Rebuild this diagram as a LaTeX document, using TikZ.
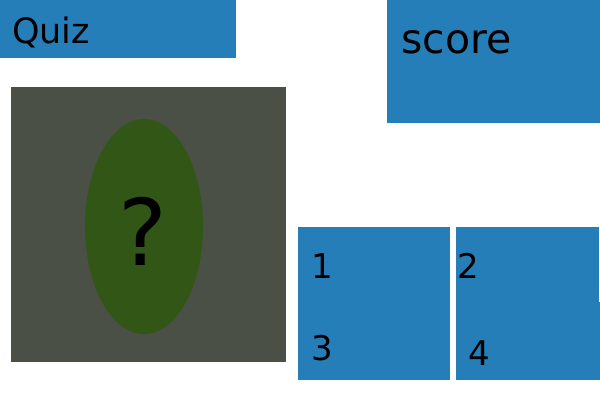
\documentclass[tikz,border=0pt]{standalone}
\usepackage{fontspec}
\setmainfont{DejaVu Sans}
\usepackage{tikz}

\definecolor{quizblue}{RGB}{38,126,185}
\definecolor{slate}{RGB}{75,80,70}
\definecolor{leaf}{RGB}{50,86,22}

\tikzset{
	label/.style={anchor=base west, inner sep=0pt, text=black},
	pad/.style={fill=quizblue}
}

\begin{document}
\begin{tikzpicture}[x=1pt,y=-1pt]
	% Page
		\fill[white] (0,0) rectangle (600,400);
		\useasboundingbox (0,0) rectangle (600,400);

	% Quiz
		\fill[pad] (0,0) rectangle (236,58);
		\node[label] (quiz) at (12,43) {\fontsize{35}{40}\selectfont Quiz};

	% Score
		\fill[pad] (387,0) rectangle (600,122.5);
		\node[label] (score) at (401,53) {\fontsize{41}{46}\selectfont score};

	% Picture
		\fill[slate] (11,87) rectangle (286,362);
		\fill[leaf] (144,226.5) ellipse[x radius=59, y radius=107.5];
		\node[anchor=base, inner sep=0pt] (mark) at (143,265) {\fontsize{92}{100}\selectfont ?};

	% Answers
		\fill[pad] (298,227) rectangle (450,303);
		\fill[pad] (298,303) rectangle (450,380);
		\fill[pad] (456,227) rectangle (599,302);
		\fill[pad] (456,302) rectangle (600,380);

		\node[label] (one) at (311,278) {\fontsize{34}{40}\selectfont 1};
		\node[label] (two) at (457,278) {\fontsize{34}{40}\selectfont 2};
		\node[label] (three) at (311,360) {\fontsize{34}{40}\selectfont 3};
		\node[label] (four) at (468,365) {\fontsize{34}{40}\selectfont 4};
\end{tikzpicture}
\end{document}
